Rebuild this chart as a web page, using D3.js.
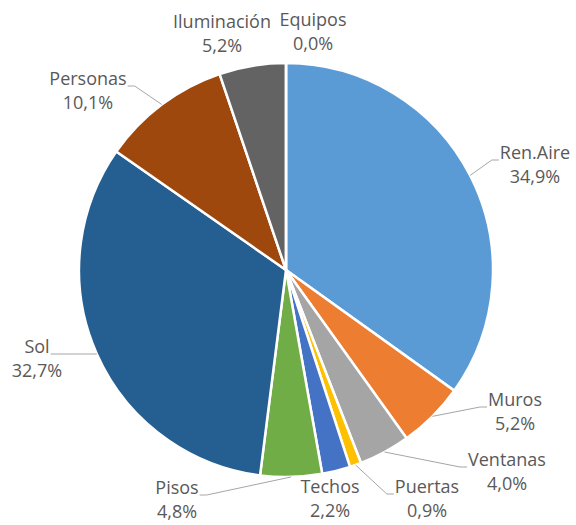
<!DOCTYPE html>
<html><head><meta charset="utf-8">
<script src="https://cdn.jsdelivr.net/npm/d3@7"></script>
<style>body{margin:0;background:#fff}svg{display:block}</style>
</head><body>
<script>
// ---- data ----
const categories = ["Ren.Aire","Muros","Ventanas","Puertas","Techos","Pisos","Sol","Personas","Iluminación","Equipos"];
const values = [34.9, 5.2, 4.0, 0.9, 2.2, 4.8, 32.7, 10.1, 5.2, 0.0];
const colors = ["#5B9BD5","#ED7D31","#A5A5A5","#FFC000","#4472C4","#70AD47","#255E91","#9E480E","#636363","#997300"];

// ---- layout (label placement, not data) ----
const labelLayout = {
  "Ren.Aire":    {x:535, y:153, leader:"left"},
  "Muros":       {x:515, y:400, leader:"left"},
  "Ventanas":    {x:507, y:460, leader:"left"},
  "Puertas":     {x:427, y:487, leader:"left"},
  "Techos":      {x:330, y:487, leader:null},
  "Pisos":       {x:177, y:488, leader:"right"},
  "Sol":         {x:37,  y:347, leader:"right"},
  "Personas":    {x:88,  y:79,  leader:"right"},
  "Iluminación": {x:222, y:22,  leader:null},
  "Equipos":     {x:313, y:20,  leader:null}
};

const W = 576, H = 525, cx = 286, cy = 270, R = 207;
const fmt = d3.formatLocale({decimal:",", thousands:".", grouping:[3], currency:["",""]}).format(".1f");

const svg = d3.select("body").append("svg").attr("width", W).attr("height", H);
const g = svg.append("g").attr("transform", `translate(${cx},${cy})`);

const data = categories.map((c,i)=>({cat:c, value:values[i], color:colors[i]}));
const pie = d3.pie().sort(null).value(d=>d.value);
const arcs = pie(data);
const arc = d3.arc().innerRadius(0).outerRadius(R);
const edgeArc = d3.arc().innerRadius(R).outerRadius(R);

g.selectAll("path.slice").data(arcs).join("path")
  .attr("class","slice")
  .attr("d", arc)
  .attr("fill", d=>d.data.color)
  .attr("stroke", "#fff")
  .attr("stroke-width", 2.5)
  .attr("stroke-linejoin", "round");

const fs = 18, lineGap = 24;
const labels = svg.append("g")
  .attr("font-family", "'Open Sans', 'Noto Sans', sans-serif")
  .attr("font-size", fs)
  .attr("fill", "#595959")
  .attr("text-anchor", "middle");

arcs.forEach(a => {
  const L = labelLayout[a.data.cat];
  const t1 = labels.append("text").attr("x", L.x).attr("y", L.y + 6).text(a.data.cat);
  labels.append("text").attr("x", L.x).attr("y", L.y + 6 + lineGap).text(fmt(a.data.value) + "%");
  if (L.leader) {
    const bb = t1.node().getBBox();
    const by = L.y + 7;
    const [ex, ey] = edgeArc.centroid(a);
    const p0 = [ex + cx, ey + cy];
    let end, elbow;
    if (L.leader === "left") { end = [bb.x - 1, by]; elbow = [bb.x - 8, by]; }
    else { end = [bb.x + bb.width + 1, by]; elbow = [bb.x + bb.width + 8, by]; }
    svg.append("polyline")
      .attr("points", [end, elbow, p0].map(p=>p.join(",")).join(" "))
      .attr("fill", "none")
      .attr("stroke", "#A6A6A6")
      .attr("stroke-width", 1);
  }
});
</script>
</body></html>
